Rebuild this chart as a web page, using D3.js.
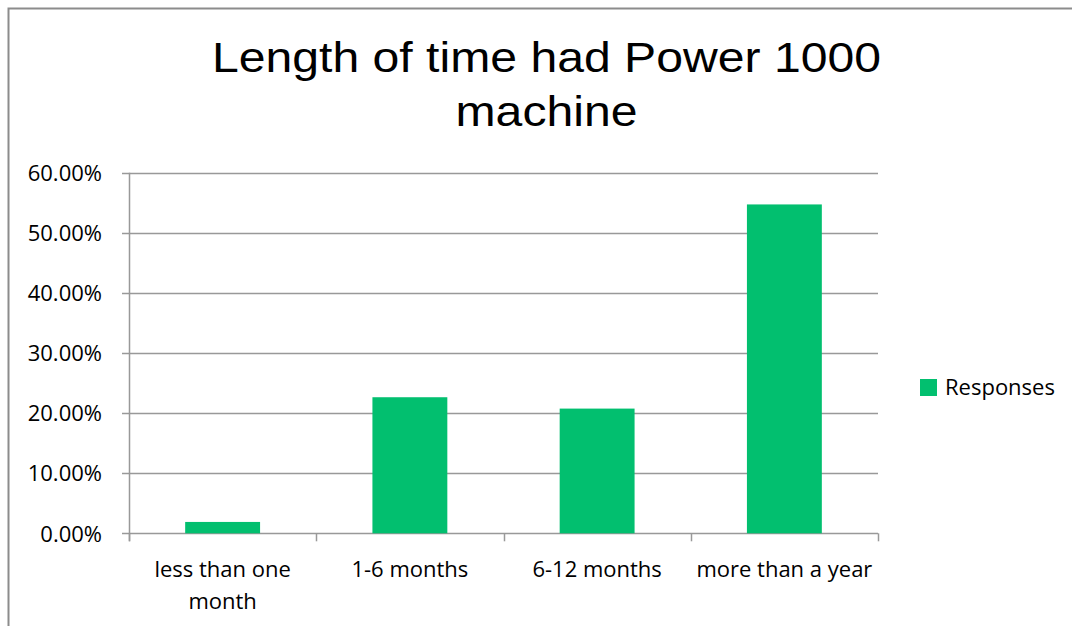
<!DOCTYPE html>
<html>
<head>
<meta charset="utf-8">
<script src="https://cdn.jsdelivr.net/npm/d3@7"></script>
<style>
	html, body { margin: 0; padding: 0; background: #fff; }
	svg { display: block; }
	.label { font-family: "Open Sans", sans-serif; font-size: 22px; fill: #000; }
	.title { font-family: "Liberation Sans", Arial, sans-serif; font-size: 43px; fill: #000; }
</style>
</head>
<body>
<svg id="chart" width="1072" height="626"></svg>
<script>
const categories = ['less than one month', '1-6 months', '6-12 months', 'more than a year'];
const categoryLines = [['less than one', 'month'], ['1-6 months'], ['6-12 months'], ['more than a year']];
const responses = [0.0189, 0.2264, 0.2075, 0.5472];
const yTicks = [0, 0.1, 0.2, 0.3, 0.4, 0.5, 0.6];
const titleLines = ['Length of time had Power 1000', 'machine'];
const seriesName = 'Responses';

const Chart = {
	plotLeft: 129,
	plotRight: 878,
	plotTop: 172.7,
	plotBottom: 533.3,
	barColor: '#02bf6f',
	gridColor: '#999999',

	draw: function() {
		const self = this;
		let svg = d3.select('#chart');

		let x = d3.scaleBand()
			.domain(categories)
			.range([ self.plotLeft, self.plotRight ])
			.paddingInner(0.6)
			.paddingOuter(0.3);
		let y = d3.scaleLinear()
			.domain([ 0, 0.6 ])
			.range([ self.plotBottom, self.plotTop ]);

		self.drawFrame(svg);
		self.drawTitle(svg);
		self.drawGrid(svg, y);
		self.drawBars(svg, x, y);
		self.drawAxes(svg, x, y);
		self.drawLegend(svg);
	},

	drawFrame: function(svg) {
		svg.append('path')
			.attr('d', 'M8.5,640 V8.5 H1072')
			.attr('fill', 'none')
			.attr('stroke', '#8c8c8c')
			.attr('stroke-width', 2);
	},

	drawTitle: function(svg) {
		svg.selectAll('text.title')
			.data(titleLines)
			.enter()
			.append('text')
			.attr('class', 'title')
			.attr('text-anchor', 'middle')
			.attr('transform', (d, i) => 'translate(546.5,' + (71.7 + i * 54.3) + ') scale(1.12,1)')
			.text(d => d);
	},

	drawGrid: function(svg, y) {
		svg.append('g')
			.selectAll('line')
			.data(yTicks)
			.enter()
			.append('line')
			.attr('x1', this.plotLeft - 7)
			.attr('x2', this.plotRight)
			.attr('y1', d => Math.round(y(d)) + 0.5)
			.attr('y2', d => Math.round(y(d)) + 0.5)
			.attr('stroke', this.gridColor)
			.attr('stroke-width', 1.5);
	},

	drawBars: function(svg, x, y) {
		svg.append('g')
			.selectAll('rect')
			.data(responses)
			.enter()
			.append('rect')
			.attr('x', (d, i) => x(categories[i]))
			.attr('y', d => y(d))
			.attr('width', x.bandwidth())
			.attr('height', d => y(0) - y(d))
			.attr('fill', this.barColor);
	},

	drawAxes: function(svg, x, y) {
		const self = this;
		let yAxis = d3.axisLeft(y)
			.tickValues(yTicks)
			.tickSize(0)
			.tickPadding(27)
			.tickFormat(d3.format('.2%'));

		let gy = svg.append('g')
			.attr('transform', 'translate(' + self.plotLeft + ',0)')
			.call(yAxis);
		gy.select('.domain').remove();
		gy.selectAll('text')
			.attr('class', 'label')
			.attr('font-family', null)
			.attr('font-size', null)
			.attr('fill', null)
			.attr('dy', '0.35em');

		// vertical axis line
		svg.append('line')
			.attr('x1', self.plotLeft + 0.5)
			.attr('x2', self.plotLeft + 0.5)
			.attr('y1', y(0.6))
			.attr('y2', y(0) + 8)
			.attr('stroke', self.gridColor)
			.attr('stroke-width', 1.5);

		// category boundaries
		let step = x.step();
		let boundaries = d3.range(categories.length + 1).map(i => self.plotLeft + i * step);
		svg.append('g')
			.selectAll('line')
			.data(boundaries)
			.enter()
			.append('line')
			.attr('x1', d => Math.round(d) + 0.5)
			.attr('x2', d => Math.round(d) + 0.5)
			.attr('y1', y(0))
			.attr('y2', y(0) + 8)
			.attr('stroke', self.gridColor)
			.attr('stroke-width', 1.5);

		let labels = svg.append('g')
			.selectAll('text')
			.data(categories)
			.enter()
			.append('text')
			.attr('class', 'label')
			.attr('text-anchor', 'middle')
			.attr('x', d => x(d) + x.bandwidth() / 2)
			.attr('y', 577);

		labels.selectAll('tspan')
			.data((d, i) => categoryLines[i])
			.enter()
			.append('tspan')
			.attr('x', function() { return d3.select(this.parentNode).attr('x'); })
			.attr('dy', (d, i) => i === 0 ? 0 : 32)
			.text(d => d);
	},

	drawLegend: function(svg) {
		let g = svg.append('g')
			.attr('transform', 'translate(920,379)');
		g.append('rect')
			.attr('width', 17)
			.attr('height', 17)
			.attr('fill', this.barColor);
		g.append('text')
			.attr('class', 'label')
			.attr('x', 25)
			.attr('y', 16)
			.text(seriesName);
	}
};

Chart.draw();
</script>
</body>
</html>
